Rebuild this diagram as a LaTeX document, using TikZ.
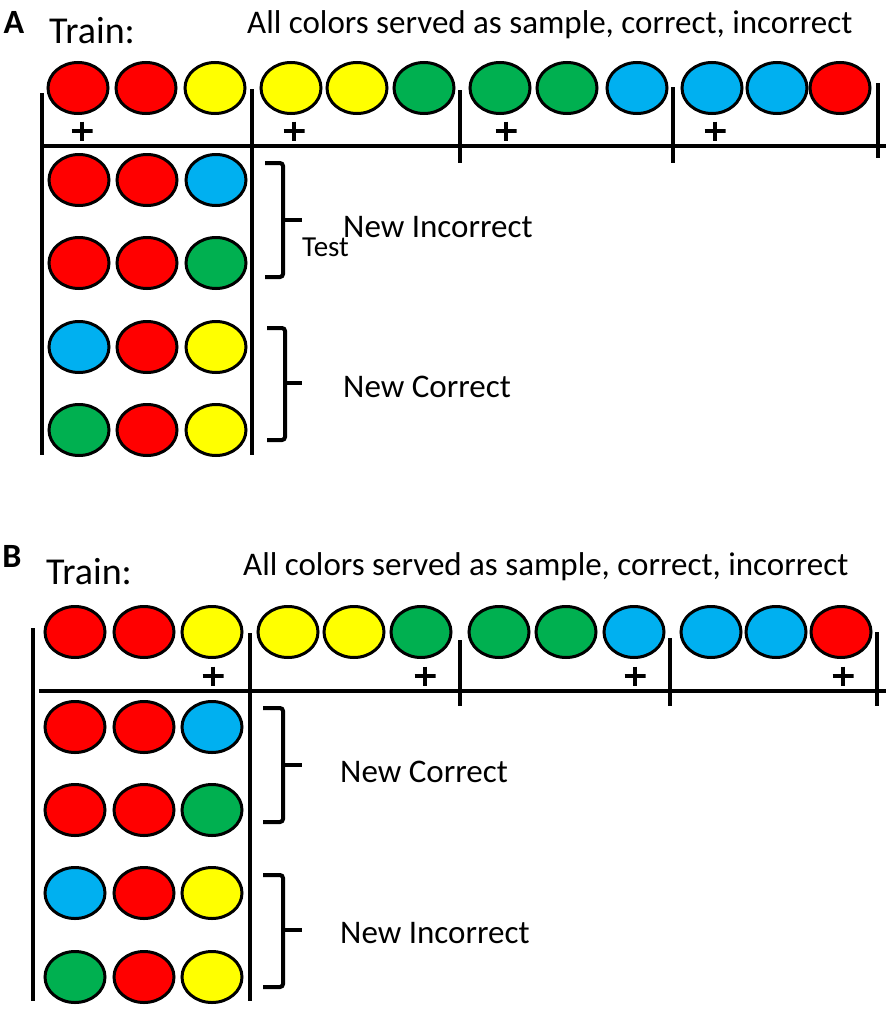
\documentclass[tikz,border=0pt]{standalone}
\usepackage{fontspec}
\setmainfont{Carlito}
\usetikzlibrary{shapes.geometric}

\begin{document}
\begin{tikzpicture}[x=1pt,y=-1pt]
\tikzstyle{dot} = [ellipse, draw=black, line width=3pt, inner sep=0pt,
minimum width=60pt, minimum height=51pt]
\tikzstyle{red_dot} = [dot, fill=cred]
\tikzstyle{yel_dot} = [dot, fill=cyel]
\tikzstyle{grn_dot} = [dot, fill=cgrn]
\tikzstyle{blu_dot} = [dot, fill=cblu]
\tikzstyle{bar} = [draw, line width=4pt]
\tikzstyle{brace} = [draw, line width=4pt, rounded corners=3pt]
\tikzstyle{plus} = [inner sep=0pt, minimum width=21pt, minimum height=19pt,
path picture={\draw [line width=3.5pt]
(path picture bounding box.north) -- (path picture bounding box.south)
(path picture bounding box.west) -- (path picture bounding box.east);}]
\tikzstyle{title} = [anchor=west, inner sep=0pt, font=\fontsize{33}{33}\selectfont]
\tikzstyle{label} = [anchor=west, inner sep=0pt, font=\fontsize{33}{33}\selectfont]
\colorlet{cred}{red}
\definecolor{cyel}{RGB}{255,255,0}
\definecolor{cgrn}{RGB}{0,176,80}
\definecolor{cblu}{RGB}{0,176,240}
\useasboundingbox (0,0) rectangle (892,1009);

% panel A
\node [inner sep=0pt, font=\fontsize{34}{34}\selectfont\bfseries] (panA) at (14,22) {A};
\node [anchor=west, inner sep=0pt, font=\fontsize{38}{38}\selectfont] (trainA) at (49,31) {Train:};
\node [title] (allA) at (247,25) {All colors served as sample, correct, incorrect};
% training row
\node [red_dot] (a1) at (78,88) {};
\node [red_dot] (a2) at (146,88) {};
\node [yel_dot] (a3) at (215,88) {};
\node [yel_dot] (a4) at (291,88) {};
\node [yel_dot] (a5) at (357,88) {};
\node [grn_dot] (a6) at (424,88) {};
\node [grn_dot] (a7) at (500,88) {};
\node [grn_dot] (a8) at (567,88) {};
\node [blu_dot] (a9) at (637,88) {};
\node [blu_dot] (a10) at (712,88) {};
\node [blu_dot] (a11) at (777,88) {};
\node [red_dot] (a12) at (840,88) {};
\node [plus] (pa1) at (82,131) {};
\node [plus] (pa2) at (294,131) {};
\node [plus] (pa3) at (506,131) {};
\node [plus] (pa4) at (715,131) {};
\path [bar] (42,146) -- (886,146);
\path [bar] (42,93) -- (42,455);
\path [bar] (252,89) -- (252,455);
\path [bar] (460,90) -- (460,163);
\path [bar] (673,87) -- (673,163);
\path [bar] (878,83) -- (878,158);
% test rows
\node [red_dot] (ta11) at (79,180) {};
\node [red_dot] (ta12) at (147,180) {};
\node [blu_dot] (ta13) at (216,180) {};
\node [red_dot] (ta21) at (79,263) {};
\node [red_dot] (ta22) at (147,263) {};
\node [grn_dot] (ta23) at (216,263) {};
\node [blu_dot] (ta31) at (79,347) {};
\node [red_dot] (ta32) at (147,347) {};
\node [yel_dot] (ta33) at (216,347) {};
\node [grn_dot] (ta41) at (79,430) {};
\node [red_dot] (ta42) at (147,430) {};
\node [yel_dot] (ta43) at (216,430) {};
\path [brace] (265,163) -- (283,163) -- (283,277) -- (265,277);
\path [bar] (283,220) -- (302,220);
\path [brace] (267,328) -- (285,328) -- (285,440) -- (267,440);
\path [bar] (285,383) -- (302,383);
\node [label] (incA) at (343,227) {New Incorrect};
\node [anchor=west, inner sep=0pt, font=\fontsize{29}{29}\selectfont] (testA) at (302,247) {Test};
\node [label] (corA) at (343,387) {New Correct};

% panel B
\node [inner sep=0pt, font=\fontsize{34}{34}\selectfont\bfseries] (panB) at (12,556) {B};
\node [anchor=west, inner sep=0pt, font=\fontsize{38}{38}\selectfont] (trainB) at (46,572) {Train:};
\node [title] (allB) at (243,567) {All colors served as sample, correct, incorrect};
\node [red_dot] (b1) at (75,632) {};
\node [red_dot] (b2) at (144,632) {};
\node [yel_dot] (b3) at (212,632) {};
\node [yel_dot] (b4) at (288,632) {};
\node [yel_dot] (b5) at (354,632) {};
\node [grn_dot] (b6) at (421,632) {};
\node [grn_dot] (b7) at (499,632) {};
\node [grn_dot] (b8) at (566,632) {};
\node [blu_dot] (b9) at (634,632) {};
\node [blu_dot] (b10) at (711,632) {};
\node [blu_dot] (b11) at (776,632) {};
\node [red_dot] (b12) at (841,632) {};
\node [plus] (pb1) at (213,676) {};
\node [plus] (pb2) at (425,676) {};
\node [plus] (pb3) at (635,676) {};
\node [plus] (pb4) at (843,676) {};
\path [bar] (39,691) -- (886,691);
\path [bar] (33,628) -- (33,1001);
\path [bar] (250,633) -- (250,1001);
\path [bar] (460,640) -- (460,706);
\path [bar] (670,638) -- (670,706);
\path [bar] (877,632) -- (877,706);
\node [red_dot] (tb11) at (75,727) {};
\node [red_dot] (tb12) at (144,727) {};
\node [blu_dot] (tb13) at (212,727) {};
\node [red_dot] (tb21) at (75,810) {};
\node [red_dot] (tb22) at (144,810) {};
\node [grn_dot] (tb23) at (212,810) {};
\node [blu_dot] (tb31) at (75,893) {};
\node [red_dot] (tb32) at (144,893) {};
\node [yel_dot] (tb33) at (212,893) {};
\node [grn_dot] (tb41) at (75,977) {};
\node [red_dot] (tb42) at (144,977) {};
\node [yel_dot] (tb43) at (212,977) {};
\path [brace] (263,708) -- (283,708) -- (283,822) -- (263,822);
\path [bar] (283,765) -- (302,765);
\path [brace] (263,875) -- (283,875) -- (283,987) -- (263,987);
\path [bar] (283,930) -- (302,930);
\node [label] (corB) at (340,772) {New Correct};
\node [label] (incB) at (340,933) {New Incorrect};
\end{tikzpicture}
\end{document}
